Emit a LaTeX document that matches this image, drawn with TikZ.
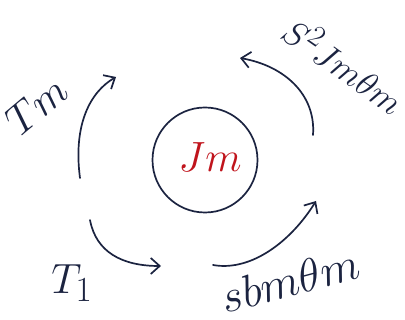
\documentclass[tikz,border=0pt]{standalone}
\usetikzlibrary{arrows.meta}
\definecolor{ink}{HTML}{1B2340}
\definecolor{redink}{HTML}{C0141C}
\tikzset{
  stroke/.style={draw=ink, line width=1.7pt, line cap=round},
  curvearrow/.style={stroke, -{Straight Barb[length=9pt,width=16pt,line width=1.7pt]}},
  lbl/.style={text=ink, font=\Huge, inner sep=0pt},
}
\begin{document}
\begin{tikzpicture}[x=1pt,y=-1pt]
\useasboundingbox (0,0) rectangle (405,320);
% central inertia
\node[stroke, circle, minimum size=105pt, inner sep=0pt] (J) at (205,160) {};
\node[lbl, text=redink, scale=1.7] (Jm) at (210,157) {$Jm$};
% arrow end points
\coordinate (a1s) at (80,178);
\coordinate (a1e) at (116,77);
\coordinate (a2s) at (313,135);
\coordinate (a2e) at (240,58);
\coordinate (a3s) at (90,220);
\coordinate (a3e) at (161,266);
\coordinate (a4s) at (213,265);
\coordinate (a4e) at (316,201);
\draw[curvearrow] (a1s) .. controls (73,125) and (90,92) .. (a1e);
\draw[curvearrow] (a2s) .. controls (316,95) and (285,66) .. (a2e);
\draw[curvearrow] (a3s) .. controls (96,252) and (122,266) .. (a3e);
\draw[curvearrow] (a4s) .. controls (252,272) and (292,240) .. (a4e);
% labels
\node[lbl, rotate=-35, scale=1.42] (S2) at (345,64) {$S^2Jm\theta m$};
\node[lbl, rotate=40, scale=1.7] (Tm) at (37,105) {$Tm$};
\node[lbl, scale=1.7] (T1) at (72,283) {$T_1$};
\node[lbl, rotate=15, scale=1.85] (sb) at (290,280) {$sbm\theta m$};
\end{tikzpicture}
\end{document}
